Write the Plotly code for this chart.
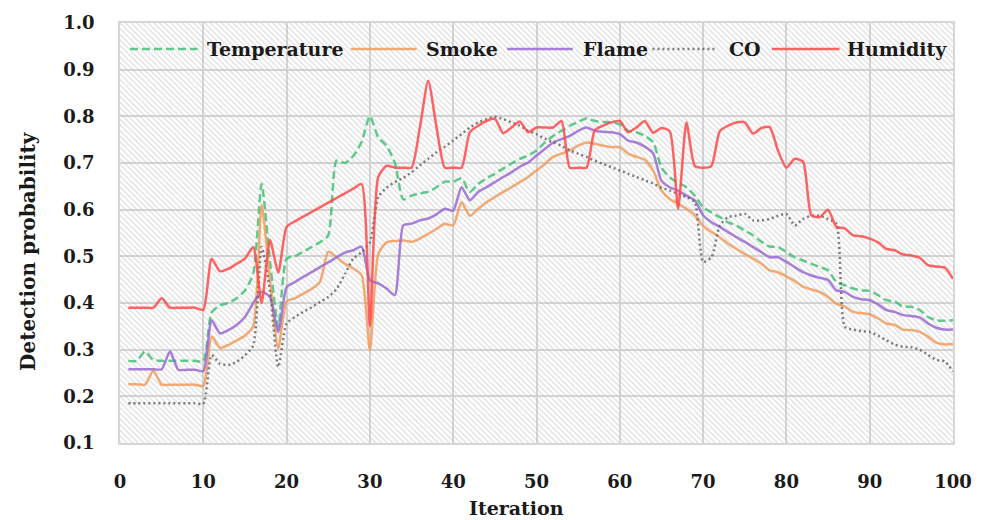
import plotly.graph_objects as go

iterations = list(range(1, 101))

temperature = [
    .276, .276, .296, .278, .276, .276, .276, .276, .276, .275,
    .380, .395, .400, .410, .427, .463, .655, .490, .349, .495,
    .500, .510, .520, .530, .545, .705, .700, .715, .745, .800,
    .755, .737, .700, .622, .630, .635, .638, .648, .660, .660,
    .667, .638, .655, .667, .677, .688, .699, .709, .716, .727,
    .744, .758, .769, .780, .788, .796, .790, .788, .787, .783,
    .769, .766, .758, .745, .690, .669, .658, .648, .630, .605,
    .594, .584, .573, .566, .555, .545, .531, .521, .520, .509,
    .498, .491, .484, .477, .470, .445, .438, .431, .427, .426,
    .417, .406, .403, .392, .392, .385, .370, .363, .362, .363]

smoke = [
    .226, .226, .225, .255, .225, .225, .225, .225, .225, .222,
    .328, .304, .310, .320, .330, .350, .610, .450, .303, .403,
    .410, .420, .430, .445, .510, .498, .484, .474, .460, .299,
    .505, .530, .533, .534, .531, .538, .548, .559, .570, .566,
    .616, .587, .602, .616, .627, .638, .648, .659, .670, .684,
    .698, .713, .720, .727, .737, .744, .741, .737, .734, .734,
    .720, .713, .707, .684, .641, .623, .613, .602, .588, .566,
    .552, .541, .527, .516, .505, .495, .484, .470, .466, .457,
    .447, .435, .429, .424, .413, .398, .393, .381, .378, .376,
    .367, .356, .353, .343, .342, .338, .328, .315, .311, .312]

flame = [
    .258, .258, .258, .258, .258, .296, .257, .257, .257, .254,
    .363, .335, .342, .353, .370, .400, .424, .413, .338, .434,
    .445, .456, .466, .477, .487, .498, .508, .513, .521, .449,
    .442, .431, .417, .566, .570, .577, .581, .590, .602, .598,
    .648, .620, .638, .648, .659, .670, .680, .692, .701, .716,
    .730, .744, .751, .758, .769, .776, .769, .767, .766, .762,
    .748, .744, .735, .721, .662, .648, .641, .630, .620, .588,
    .573, .563, .552, .541, .531, .520, .509, .498, .498, .488,
    .477, .466, .459, .454, .449, .427, .424, .413, .408, .406,
    .397, .385, .381, .374, .372, .369, .356, .347, .343, .343]

co = [
    .185, .185, .185, .185, .185, .185, .185, .185, .185, .184,
    .288, .270, .267, .274, .288, .309, .520, .427, .263, .356,
    .370, .381, .391, .402, .413, .430, .462, .495, .509, .530,
    .627, .647, .659, .668, .680, .695, .709, .723, .735, .748,
    .762, .776, .787, .794, .799, .794, .787, .780, .769, .762,
    .752, .744, .737, .727, .720, .713, .705, .698, .691, .684,
    .677, .670, .663, .656, .647, .641, .634, .627, .616, .488,
    .498, .566, .584, .587, .591, .577, .577, .580, .587, .591,
    .566, .580, .587, .587, .580, .570, .349, .343, .340, .338,
    .330, .320, .311, .306, .305, .300, .289, .278, .275, .253]

humidity = [
    .390, .390, .390, .390, .410, .390, .390, .390, .390, .385,
    .495, .468, .473, .484, .495, .520, .400, .535, .465, .563,
    .575, .585, .595, .605, .615, .625, .635, .645, .655, .350,
    .670, .694, .690, .690, .690, .776, .876, .776, .690, .690,
    .690, .766, .780, .790, .795, .764, .776, .789, .766, .776,
    .776, .776, .790, .690, .690, .690, .770, .780, .787, .790,
    .766, .776, .790, .765, .775, .768, .602, .787, .694, .690,
    .694, .768, .780, .787, .787, .763, .775, .777, .726, .690,
    .709, .703, .588, .584, .600, .563, .560, .545, .543, .538,
    .530, .516, .513, .504, .502, .497, .481, .478, .476, .452]

series_names = ["Temperature", "Smoke", "Flame", "CO", "Humidity"]
series_values = [temperature, smoke, flame, co, humidity]
series_colors = ["#45c278", "#f29c5e", "#9a6bd2", "#666666", "#ff4a4a"]
series_dash = ["8px,4px", "solid", "solid", "2px,3px", "solid"]

x_ticks = list(range(0, 101, 10))
y_ticks = [round(0.1 * i, 1) for i in range(1, 11)]
y_tick_labels = [f"{v:.1f}" for v in y_ticks]

FONT = "DejaVu Serif"
TXT = "#1a1a1a"

# plot-area geometry in pixels (used only for layout of legend/titles)
PL, PR, PT, PB = 120, 957, 22, 443
PW, PH = PR - PL, PB - PT


def px_x(px):
    return (px - PL) / PW


def px_y(py):
    return (PB - py) / PH


fig = go.Figure()

# hatched plot background
fig.add_trace(go.Bar(
    x=[50], y=[0.9], base=[0.1], width=[100],
    marker=dict(color="rgba(0,0,0,0)", line=dict(width=0),
                pattern=dict(shape="\\", fgcolor="#bcbcbc", bgcolor="rgba(0,0,0,0)",
                             size=4, solidity=0.3, fillmode="overlay")),
    showlegend=False, hoverinfo="skip"))

for name, vals, col, dash in zip(series_names, series_values, series_colors, series_dash):
    fig.add_trace(go.Scatter(
        x=iterations, y=vals, mode="lines", name=name,
        line=dict(color=col, width=2.5, dash=dash, shape="spline", smoothing=0.6),
        opacity=0.85, showlegend=False))

# manual legend (sample line + label), laid out in pixel positions
legend_sample_px = [(130, 198), (352, 418), (509, 575), (655, 720), (775, 843)]
legend_text_px = [205, 425, 583, 730, 848]
legend_y_px = 48
shapes = []
annotations = []
for (x0, x1), tx, name, col, dash in zip(legend_sample_px, legend_text_px,
                                         series_names, series_colors, series_dash):
    shapes.append(dict(type="line", xref="paper", yref="paper",
                       x0=px_x(x0), x1=px_x(x1), y0=px_y(legend_y_px), y1=px_y(legend_y_px),
                       line=dict(color=col, width=2.5, dash=dash), opacity=0.85))
    annotations.append(dict(xref="paper", yref="paper", x=px_x(tx), y=px_y(legend_y_px),
                            xanchor="left", yanchor="middle", showarrow=False, text=name,
                            font=dict(family=FONT, size=19, color=TXT, weight="bold")))

# axis titles
annotations.append(dict(xref="paper", yref="paper", x=px_x(518), y=px_y(508),
                        xanchor="center", yanchor="middle", showarrow=False, text="Iteration",
                        font=dict(family=FONT, size=19, color=TXT, weight="bold")))
annotations.append(dict(xref="paper", yref="paper", x=px_x(28), y=px_y(250),
                        xanchor="center", yanchor="middle", showarrow=False,
                        text="Detection probability", textangle=-90,
                        font=dict(family=FONT, size=20, color=TXT, weight="bold")))

fig.update_layout(
    width=984, height=520,
    margin=dict(l=PL, r=984 - PR, t=PT, b=520 - PB),
    paper_bgcolor="white", plot_bgcolor="white",
    font=dict(family=FONT, size=18, color=TXT, weight="bold"),
    showlegend=False,
    bargap=0,
    shapes=shapes,
    annotations=annotations,
)

fig.update_xaxes(
    range=[0, 100], tickvals=x_ticks, ticktext=[str(v) for v in x_ticks],
    showgrid=True, gridcolor="#d6d6d6", gridwidth=1.5,
    showline=True, linecolor="#d6d6d6", linewidth=1.5, mirror=True,
    ticks="outside", ticklen=22, tickcolor="rgba(0,0,0,0)",
    zeroline=False,
)
fig.update_yaxes(
    range=[0.1, 1.0], tickvals=y_ticks, ticktext=y_tick_labels,
    showgrid=True, gridcolor="#d6d6d6", gridwidth=1.5,
    showline=True, linecolor="#d6d6d6", linewidth=1.5, mirror=True,
    ticks="outside", ticklen=20, tickcolor="rgba(0,0,0,0)",
    zeroline=False,
)

fig.write_html("out.html")
